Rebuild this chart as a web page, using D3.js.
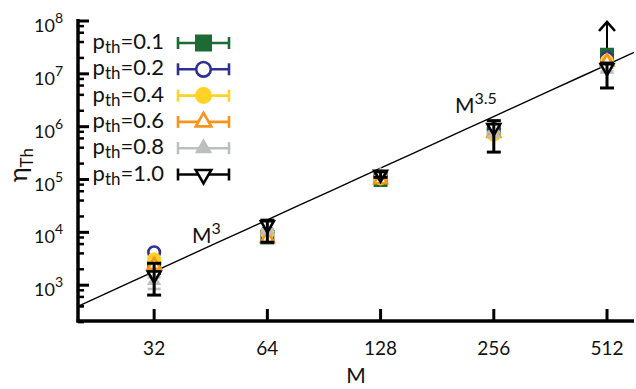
<!DOCTYPE html>
<html>
<head>
<meta charset="utf-8">
<script src="https://cdn.jsdelivr.net/npm/d3@7"></script>
<style>
  body { margin: 0; background: #fff; }
  text { font-family: Lato, "Open Sans", sans-serif; fill: #111; }
</style>
</head>
<body>
<div id="chart"></div>
<script>
// chart data
const sizes = [32, 64, 128, 256, 512];
const xTicks = [32, 64, 128, 256, 512];
const yTicks = [1e3, 1e4, 1e5, 1e6, 1e7, 1e8];
const yTickExp = ["3", "4", "5", "6", "7", "8"];

const seriesNames = ["0.1", "0.2", "0.4", "0.6", "0.8", "1.0"];
const seriesColors = ["#1d6b34", "#2e3192", "#ffd225", "#f7941d", "#bcbec0", "#000000"];
const seriesShapes = ["square", "circleOpen", "circle", "triUpOpen", "triUp", "triDownOpen"];

const green = [2100, 8000, 98000, 850000, 2.3e7];
const blue = [4200, 10000, 110000, 900000, 2.0e7];
const yellow = [3100, 9600, 105000, 700000, 1.75e7];
const orange = [2400, 7700, 100000, 750000, 1.7e7];
const grey = [1200, 10500, 125000, 720000, 1.2e7];
const black = [1550, 13800, 125000, 950000, 1.3e7];
const seriesValues = [green, blue, yellow, orange, grey, black];

// error bars (low, high)
const greyLo = [850, 9500, 115000, 650000, 1.1e7];
const greyHi = [1400, 11500, 135000, 800000, 1.3e7];
const blackLo = [650, 6500, 110000, 330000, 5.4e6];
const blackHi = [2600, 17000, 140000, 1.3e6, 1.6e7];

// lower bound arrow at M=512
const arrowFrom = 2.3e7;
const arrowTo = 1e8;

// power law fit eta = A * M^b
const fitA = 0.02329;
const fitB = 3.25;

const W = 636, H = 389;
const svg = d3.select("#chart").append("svg")
  .attr("width", W).attr("height", H);

const x = d3.scaleLog().base(2).domain([20.2, 604]).range([79, 634]);
const y = d3.scaleLog().domain([210, 1e8]).range([321, 21]);

// fit line
const fitM = x.domain();
const line = d3.line().x(d => x(d)).y(d => y(fitA * Math.pow(d, fitB)));
svg.append("path")
  .attr("d", line(d3.range(0, 21).map(i => fitM[0] * Math.pow(fitM[1] / fitM[0], i / 20))))
  .attr("fill", "none").attr("stroke", "#000").attr("stroke-width", 1.4);

// annotations
const ann1 = svg.append("text").attr("x", 192).attr("y", 243).style("font-size", "21px");
ann1.append("tspan").text("M");
ann1.append("tspan").attr("dy", -9).style("font-size", "16px").text("3");
const ann2 = svg.append("text").attr("x", 455).attr("y", 113).style("font-size", "21px");
ann2.append("tspan").text("M");
ann2.append("tspan").attr("dy", -9).style("font-size", "16px").text("3.5");

// symbols
function drawMarker(g, shape, color, cx, cy, s) {
  const tri = d3.symbol().type(d3.symbolTriangle).size(s * s * 0.45)();
  const triO = d3.symbol().type(d3.symbolTriangle).size(s * s * 0.36)();
  if (shape === "square") {
    g.append("rect").attr("x", cx - s / 2).attr("y", cy - s / 2).attr("width", s).attr("height", s).attr("fill", color);
  } else if (shape === "circleOpen") {
    g.append("circle").attr("cx", cx).attr("cy", cy).attr("r", s / 2 - 1.2).attr("fill", "#fff").attr("stroke", color).attr("stroke-width", 2.6);
  } else if (shape === "circle") {
    g.append("circle").attr("cx", cx).attr("cy", cy).attr("r", s / 2).attr("fill", color);
  } else if (shape === "triUpOpen") {
    g.append("path").attr("d", triO)
      .attr("transform", `translate(${cx},${cy})`).attr("fill", "#fff").attr("stroke", color).attr("stroke-width", 2.6);
  } else if (shape === "triUp") {
    g.append("path").attr("d", tri).attr("transform", `translate(${cx},${cy})`).attr("fill", color);
  } else {
    g.append("path").attr("d", triO)
      .attr("transform", `translate(${cx},${cy}) rotate(180)`).attr("fill", "#fff").attr("stroke", color).attr("stroke-width", 2.6);
  }
}

function vErr(g, color, cx, lo, hi, w, sw) {
  g.append("line").attr("x1", cx).attr("x2", cx).attr("y1", y(lo)).attr("y2", y(hi)).attr("stroke", color).attr("stroke-width", sw);
  [lo, hi].forEach(v => g.append("line").attr("x1", cx - w / 2).attr("x2", cx + w / 2)
    .attr("y1", y(v)).attr("y2", y(v)).attr("stroke", color).attr("stroke-width", sw));
}

const marks = svg.append("g");
// arrow for lower bound
const ax = x(512);
marks.append("line").attr("x1", ax).attr("x2", ax).attr("y1", y(arrowFrom)).attr("y2", y(arrowTo) + 1)
  .attr("stroke", "#000").attr("stroke-width", 2);
marks.append("path")
  .attr("d", `M${ax - 8},${y(arrowTo) + 10} L${ax},${y(arrowTo) + 1} L${ax + 8},${y(arrowTo) + 10}`)
  .attr("fill", "none").attr("stroke", "#000").attr("stroke-width", 2.6);

seriesValues.forEach((vals, si) => {
  const g = marks.append("g");
  if (si === 4) sizes.forEach((m, i) => vErr(g, seriesColors[si], x(m), greyLo[i], greyHi[i], 13, 2.5));
  vals.forEach((v, i) => drawMarker(g, seriesShapes[si], seriesColors[si], x(sizes[i]), y(v), 14));
  if (si === 5) sizes.forEach((m, i) => vErr(g, seriesColors[si], x(m), blackLo[i], blackHi[i], 14, 3));
});

// axes
const axisG = svg.append("g");
axisG.append("line").attr("x1", 78).attr("x2", 78).attr("y1", 19).attr("y2", 322.5).attr("stroke", "#000").attr("stroke-width", 3.5);
axisG.append("line").attr("x1", 76.5).attr("x2", 634).attr("y1", 321).attr("y2", 321).attr("stroke", "#000").attr("stroke-width", 3.5);

// y ticks: majors and minors at 2,4,6,8
const yMinor = [];
[2, 3, 4, 5, 6, 7].forEach(k => [2, 4, 6, 8].forEach(f => yMinor.push(f * Math.pow(10, k))));
yMinor.push(400);
axisG.selectAll(".ymin").data(yMinor).join("line")
  .attr("x1", 78).attr("x2", 84).attr("y1", d => y(d)).attr("y2", d => y(d))
  .attr("stroke", "#000").attr("stroke-width", 2.5);
axisG.selectAll(".ymaj").data(yTicks).join("line")
  .attr("x1", 78).attr("x2", 89).attr("y1", d => y(d)).attr("y2", d => y(d))
  .attr("stroke", "#000").attr("stroke-width", 3);
yTicks.forEach((t, i) => {
  const tx = axisG.append("text").attr("x", 63).attr("y", y(t) + 11).attr("text-anchor", "end").style("font-size", "18px");
  tx.append("tspan").text("10");
  tx.append("tspan").attr("dy", -9).style("font-size", "14px").text(yTickExp[i]);
});

// x ticks
axisG.selectAll(".xt").data(xTicks).join("line")
  .attr("x1", d => x(d)).attr("x2", d => x(d)).attr("y1", 321).attr("y2", 309)
  .attr("stroke", "#000").attr("stroke-width", 3);
axisG.selectAll(".xl").data(xTicks).join("text")
  .attr("x", d => x(d)).attr("y", 355).attr("text-anchor", "middle").style("font-size", "19px")
  .text(d => d);

svg.append("text").attr("x", 356).attr("y", 383).attr("text-anchor", "middle").style("font-size", "21px").text("M");

const yl = svg.append("text").attr("transform", "translate(27,165) rotate(-90)").attr("text-anchor", "middle").style("font-size", "25px");
yl.append("tspan").text("η");
yl.append("tspan").attr("dy", 6).style("font-size", "17px").text("Th");

// legend
const legend = svg.append("g");
seriesNames.forEach((n, i) => {
  const cy = 43 + i * 26.3;
  const c = seriesColors[i];
  const t = legend.append("text").attr("x", 164).attr("y", cy + 6).attr("text-anchor", "end").style("font-size", "22px");
  t.append("tspan").text("p");
  t.append("tspan").attr("dy", 4).style("font-size", "17px").text("th");
  t.append("tspan").attr("dy", -4).text("=" + n);
  legend.append("line").attr("x1", 178).attr("x2", 229).attr("y1", cy).attr("y2", cy).attr("stroke", c).attr("stroke-width", 2.6);
  [178, 229].forEach(ex => legend.append("line").attr("x1", ex).attr("x2", ex).attr("y1", cy - 6).attr("y2", cy + 6).attr("stroke", c).attr("stroke-width", 2.6));
  drawMarker(legend, seriesShapes[i], c, 203.5, cy, 17);
});
</script>
</body>
</html>
